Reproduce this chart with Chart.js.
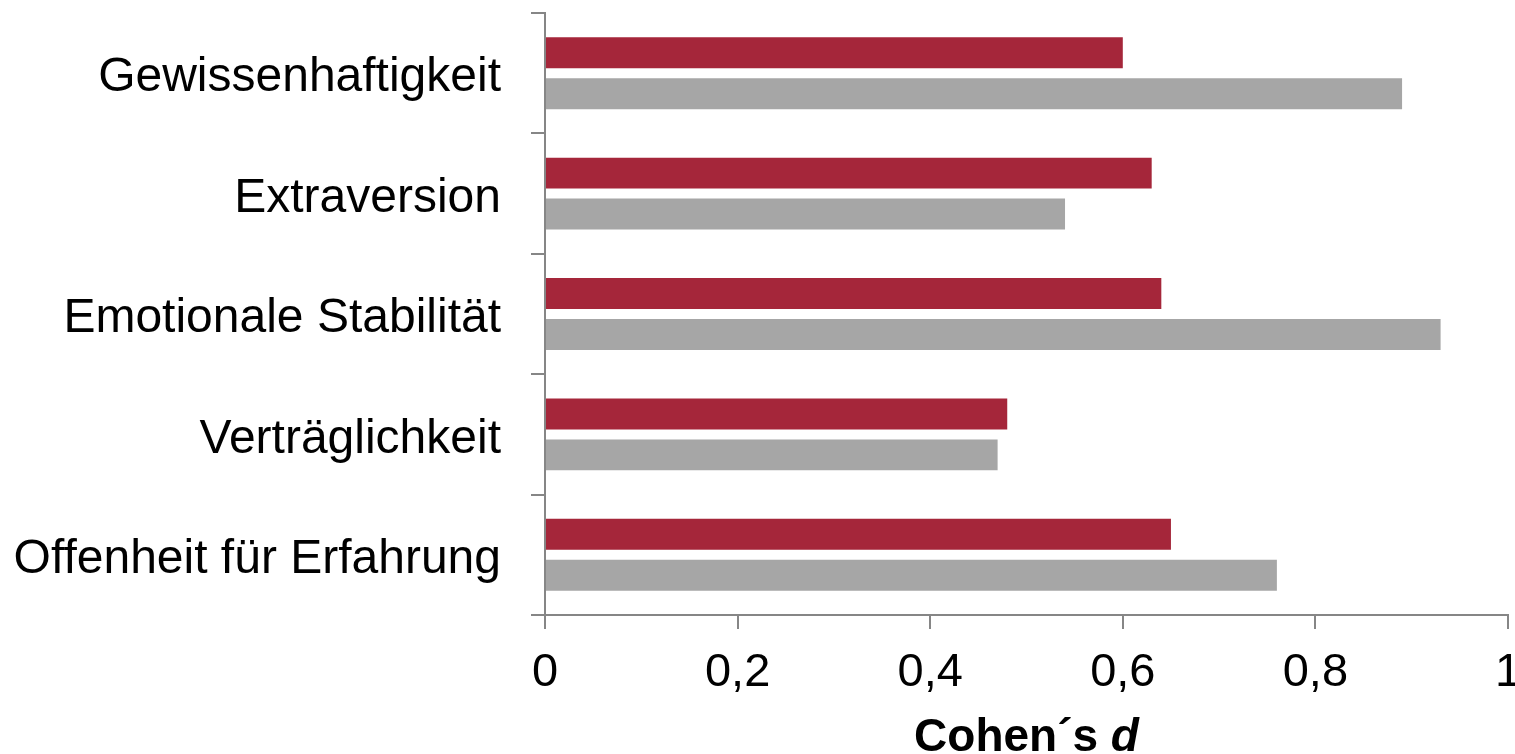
<!DOCTYPE html>
<html lang="de">
<head>
<meta charset="utf-8">
<title>Cohen´s d – Big Five</title>
<script src="https://cdn.jsdelivr.net/npm/chart.js@4.4.1/dist/chart.umd.min.js"></script>
<style>
  html, body { margin: 0; padding: 0; background: #ffffff; }
  #wrap { width: 1515px; height: 754px; position: relative; }
</style>
</head>
<body>
<div id="wrap"><canvas id="chart" width="1515" height="754"></canvas></div>
<script>
// Big-Five-Dimensionen (von oben nach unten)
const categories = [
  'Gewissenhaftigkeit',
  'Extraversion',
  'Emotionale Stabilität',
  'Verträglichkeit',
  'Offenheit für Erfahrung'
];

// Effektstärken je Dimension
const seriesRed  = [0.60, 0.63, 0.64, 0.48, 0.65];
const seriesGray = [0.89, 0.54, 0.93, 0.47, 0.76];

// Beschriftung der x-Achse
const xTickLabels = ['0', '0,2', '0,4', '0,6', '0,8', '1'];
const xTitleMain = 'Cohen´s ';
const xTitleItalic = 'd';

const FONT = "'Liberation Sans', Arial, Helvetica, sans-serif";
const AXIS_GRAY = '#868686';

// Achsentitel mit kursivem "d"
const axisTitlePlugin = {
  id: 'axisTitle',
  afterDraw(chart) {
    const x = chart.scales.x;
    const ctx = chart.ctx;
    ctx.save();
    ctx.fillStyle = '#000000';
    ctx.textBaseline = 'alphabetic';
    ctx.textAlign = 'left';
    const fMain = 'bold 46px ' + FONT;
    const fItal = 'italic bold 46px ' + FONT;
    ctx.font = fMain;
    const w1 = ctx.measureText(xTitleMain).width;
    ctx.font = fItal;
    const w2 = ctx.measureText(xTitleItalic).width;
    const cx = (x.left + x.right) / 2;
    const start = cx - (w1 + w2) / 2;
    const baseline = x.bottom - 3;
    ctx.font = fMain;
    ctx.fillText(xTitleMain, start, baseline);
    ctx.font = fItal;
    ctx.fillText(xTitleItalic, start + w1, baseline);
    ctx.restore();
  }
};

new Chart(document.getElementById('chart'), {
  type: 'bar',
  data: {
    labels: categories,
    datasets: [
      {
        label: 'Reihe 1',
        data: seriesRed,
        backgroundColor: '#a5263a',
        borderWidth: 0,
        categoryPercentage: 0.68,
        barPercentage: 0.756
      },
      {
        label: 'Reihe 2',
        data: seriesGray,
        backgroundColor: '#a6a6a6',
        borderWidth: 0,
        categoryPercentage: 0.68,
        barPercentage: 0.756
      }
    ]
  },
  options: {
    indexAxis: 'y',
    responsive: false,
    animation: false,
    layout: { padding: { top: 13, right: 7, left: 0, bottom: 0 } },
    plugins: {
      legend: { display: false },
      tooltip: { enabled: false },
      title: { display: false }
    },
    scales: {
      x: {
        type: 'linear',
        min: 0,
        max: 1,
        afterBuildTicks(scale) {
          scale.ticks = xTickLabels.map((_, i) => ({ value: i * 0.2 }));
        },
        afterFit(scale) {
          scale.height = 139;
          scale.paddingLeft = 0;
          scale.paddingRight = 0;
        },
        border: { display: true, color: AXIS_GRAY, width: 2 },
        grid: {
          display: true,
          drawOnChartArea: false,
          drawTicks: true,
          tickLength: 14,
          color: AXIS_GRAY,
          lineWidth: 2
        },
        ticks: {
          padding: 16,
          color: '#000000',
          font: { family: FONT, size: 47 },
          maxRotation: 0,
          autoSkip: false,
          callback: (value, index) => xTickLabels[index]
        }
      },
      y: {
        type: 'category',
        afterFit(scale) {
          scale.width = 545;
          scale.paddingTop = 0;
          scale.paddingBottom = 0;
        },
        border: { display: true, color: AXIS_GRAY, width: 2 },
        grid: {
          display: true,
          offset: true,
          drawOnChartArea: false,
          drawTicks: true,
          tickLength: 14,
          color: AXIS_GRAY,
          lineWidth: 2
        },
        ticks: {
          padding: 30,
          labelOffset: 5,
          color: '#000000',
          font: { family: FONT, size: 48 },
          autoSkip: false
        }
      }
    }
  },
  plugins: [axisTitlePlugin]
});
</script>
</body>
</html>
